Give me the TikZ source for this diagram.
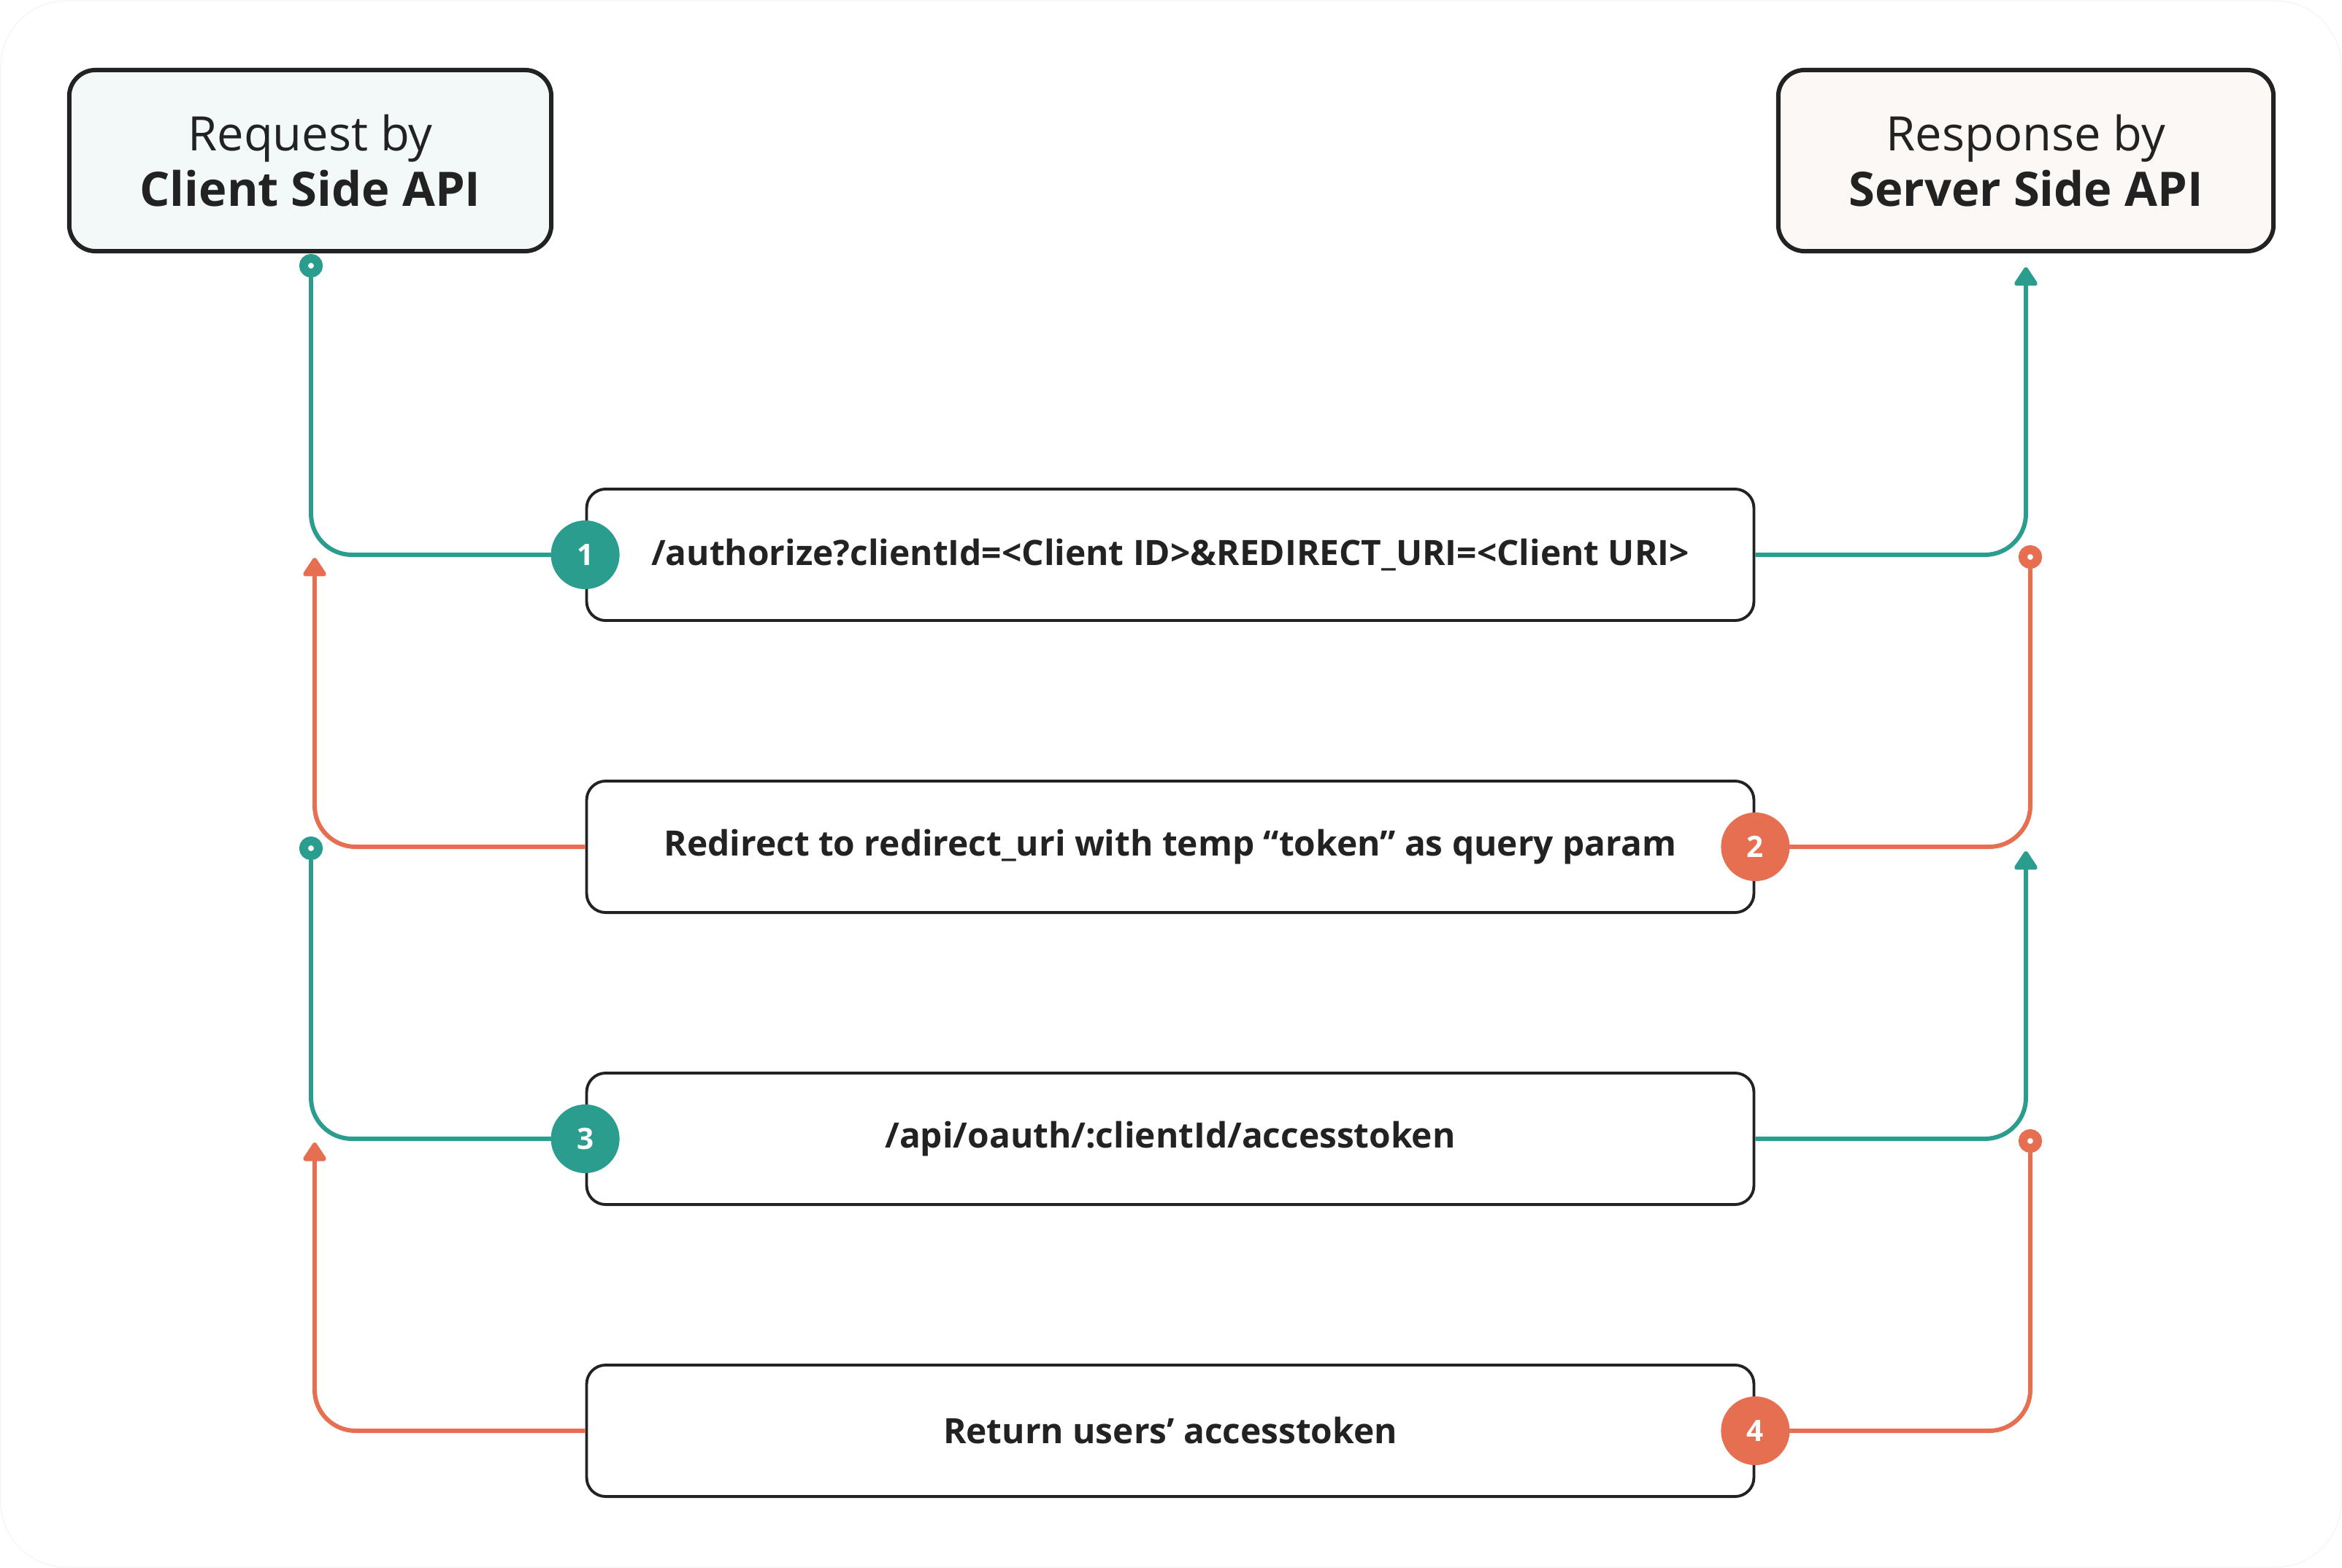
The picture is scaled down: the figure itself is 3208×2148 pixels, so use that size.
\documentclass[tikz,border=0pt]{standalone}
\usepackage{fontspec}
\setmainfont{Open Sans}
\usepackage{xcolor}
\usepackage{tikz}
\usetikzlibrary{arrows.meta}
\definecolor{cteal}{HTML}{2A9D8F}
\definecolor{corange}{HTML}{E76F51}
\definecolor{cink}{HTML}{222222}
\definecolor{cclient}{HTML}{F3F9F9}
\definecolor{cserver}{HTML}{FCF8F6}

\begin{document}
\begin{tikzpicture}[
    x=0.01cm, y=-0.01cm,
    >={Triangle[round, length=8pt, width=10pt]},
    apibox/.style={
        rectangle,
        rounded corners=0.36cm,
        draw=cink,
        fill=#1,
        line width=1.7pt,
        minimum height=2.48cm,
        align=center,
        text=cink,
        font=\fontsize{18.5}{21.5}\selectfont
    },
    callbox/.style={
        rectangle,
        rounded corners=0.26cm,
        draw=cink,
        fill=white,
        line width=1.1pt,
        minimum width=15.98cm,
        minimum height=1.8cm,
        text=cink,
        font=\fontsize{13.6}{16}\selectfont\bfseries
    },
    stepnum/.style={
        circle,
        fill=#1,
        minimum size=0.94cm,
        inner sep=0pt,
        text=white,
        font=\fontsize{11.5}{13}\selectfont\bfseries
    },
    ring/.style={
        circle,
        draw=#1,
        fill=white,
        line width=3.4pt,
        minimum size=0.2cm,
        inner sep=0pt
    },
    flow/.style={
        draw=#1,
        line width=1.7pt,
        rounded corners=0.56cm
    }
]
\useasboundingbox (0,0) rectangle (3208,2148);

% faint outer frame
\draw[gray!8, line width=0.4pt, rounded corners=0.9cm] (1,1) rectangle (3207,2147);

% Top row: the two APIs
\node[apibox=cclient, minimum width=6.6cm] (client) at (425,220) {Request by\\\textbf{Client Side API}};
\node[apibox=cserver, minimum width=6.78cm] (server) at (2775,220) {Response by\\\textbf{Server Side API}};

% Calls, one per row
\node[callbox] (authbox) at (1603,760) {/authorize?clientId=<Client ID>\&REDIRECT\_URI=<Client URI>};
\node[callbox] (redirbox) at (1603,1160) {Redirect to redirect\_uri with temp “token” as query param};
\node[callbox] (tokenbox) at (1603,1560) {/api/oauth/:clientId/accesstoken};
\node[callbox] (returnbox) at (1603,1960) {Return users’ accesstoken};

% Start rings and arrow ends
\node[ring=cteal] (ring1) at (426,364) {};
\node[ring=corange] (ring2) at (2781,763) {};
\node[ring=cteal] (ring3) at (426,1162) {};
\node[ring=corange] (ring4) at (2781,1563) {};
\coordinate (tip1) at (2775,366);
\coordinate (tip2) at (431,764);
\coordinate (tip3) at (2775,1166);
\coordinate (tip4) at (431,1565);

% Step 1: client -> authorize -> server
\draw[flow=cteal] (ring1) |- (authbox.west);
\draw[flow=cteal, ->] (authbox) -| (tip1);

% Step 2: server -> redirect -> client
\draw[flow=corange] (ring2) |- (redirbox.east);
\draw[flow=corange, ->] (redirbox) -| (tip2);

% Step 3: client -> accesstoken -> server
\draw[flow=cteal] (ring3) |- (tokenbox.west);
\draw[flow=cteal, ->] (tokenbox) -| (tip3);

% Step 4: server -> return token -> client
\draw[flow=corange] (ring4) |- (returnbox.east);
\draw[flow=corange, ->] (returnbox) -| (tip4);

% Redraw rings over line ends
\node[ring=cteal] at (ring1) {};
\node[ring=corange] at (ring2) {};
\node[ring=cteal] at (ring3) {};
\node[ring=corange] at (ring4) {};

% Step numbers
\node[stepnum=cteal] (num1) at (authbox.west) {1};
\node[stepnum=corange] (num2) at (redirbox.east) {2};
\node[stepnum=cteal] (num3) at (tokenbox.west) {3};
\node[stepnum=corange] (num4) at (returnbox.east) {4};

\end{tikzpicture}
\end{document}
